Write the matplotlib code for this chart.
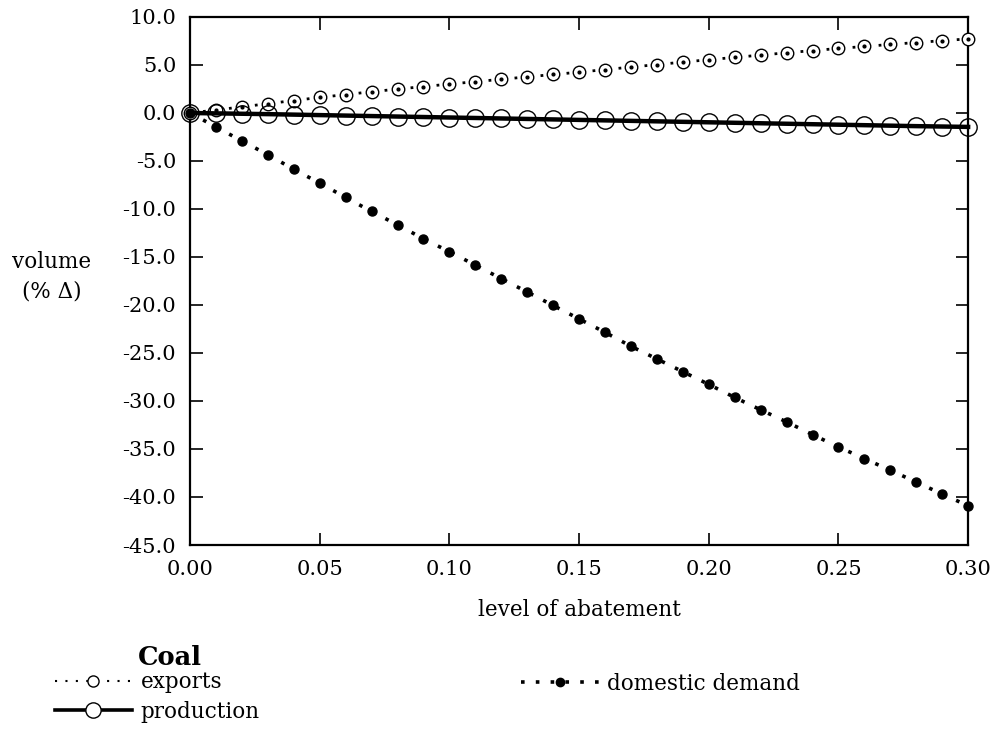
import numpy as np
import matplotlib
matplotlib.use("Agg")
import matplotlib.pyplot as plt
from matplotlib.lines import Line2D
from matplotlib.ticker import FormatStrFormatter

plt.rcParams['font.family'] = ['DejaVu Serif']

# level of abatement
abatement = [0.00, 0.01, 0.02, 0.03, 0.04, 0.05, 0.06, 0.07, 0.08, 0.09, 0.10,
             0.11, 0.12, 0.13, 0.14, 0.15, 0.16, 0.17, 0.18, 0.19, 0.20,
             0.21, 0.22, 0.23, 0.24, 0.25, 0.26, 0.27, 0.28, 0.29, 0.30]

# volume (% change)
exports = [0.00, 0.31, 0.64, 0.97, 1.30, 1.62, 1.92, 2.21, 2.49, 2.75, 3.01,
           3.26, 3.51, 3.76, 4.01, 4.25, 4.52, 4.78, 5.04, 5.30, 5.55,
           5.79, 6.03, 6.27, 6.50, 6.72, 6.93, 7.14, 7.34, 7.53, 7.72]
production = [0.00, -0.04, -0.08, -0.12, -0.17, -0.22, -0.27, -0.32, -0.37, -0.42, -0.47,
              -0.52, -0.57, -0.62, -0.67, -0.72, -0.77, -0.82, -0.87, -0.92, -0.97,
              -1.02, -1.07, -1.12, -1.17, -1.22, -1.27, -1.32, -1.37, -1.41, -1.45]
domestic = [0.00, -1.45, -2.92, -4.34, -5.87, -7.30, -8.80, -10.26, -11.65, -13.10, -14.45,
            -15.85, -17.25, -18.65, -20.05, -21.45, -22.85, -24.30, -25.62, -26.95, -28.27,
            -29.63, -30.92, -32.18, -33.50, -34.79, -36.00, -37.22, -38.44, -39.70, -40.91]

xticks = [0.00, 0.05, 0.10, 0.15, 0.20, 0.25, 0.30]
yticks = [10, 5, 0, -5, -10, -15, -20, -25, -30, -35, -40, -45]

fs = 15      # tick labels
fs_txt = 15.5  # axis labels / legend

fig = plt.figure(figsize=(9.95, 7.29), dpi=100)
ax = fig.add_axes([0.191, 0.2524, 0.782, 0.7243])

# exports: dotted line, small open circles with a centre dot
ax.plot(abatement, exports, color='black', lw=2, linestyle=(0, (1, 3.7)),
        dash_capstyle='butt', marker='o', ms=9, mfc='white', mec='black',
        mew=1.0, clip_on=False, zorder=3)
ax.plot(abatement, exports, linestyle='none', marker='o', ms=2,
        color='black', clip_on=False, zorder=4)

# production: thick solid line, large open circles
ax.plot(abatement, production, color='black', lw=3.2, linestyle='-',
        marker='o', ms=12.5, mfc='none', mec='black', mew=1.0,
        clip_on=False, zorder=3)

# domestic demand: dotted line, filled dots
ax.plot(abatement, domestic, color='black', lw=2.6, linestyle=(0, (1, 3.1)),
        dash_capstyle='butt', marker='o', ms=6.5, mfc='black', mec='black',
        clip_on=False, zorder=3)

ax.set_xlim(0, 0.30)
ax.set_ylim(-45, 10)
ax.set_xticks(xticks)
ax.set_yticks(yticks)
ax.xaxis.set_major_formatter(FormatStrFormatter('%.2f'))
ax.yaxis.set_major_formatter(FormatStrFormatter('%.1f'))
ax.tick_params(direction='in', length=9, width=1.2, top=True, right=True,
               labelsize=fs)
ax.tick_params(axis='y', pad=10)
ax.tick_params(axis='x', pad=11)
for sp in ax.spines.values():
    sp.set_linewidth(1.6)

ax.set_xlabel('level of abatement', fontsize=fs_txt, labelpad=14)
fig.text(0.052, 0.62, 'volume\n(% \u0394)', fontsize=fs_txt, ha='center',
         va='center', linespacing=1.45)

# legend
h_exp = Line2D([], [], color='black', lw=1.5, linestyle=(0, (1, 4)),
               marker='o', ms=8, mfc='white', mec='black', mew=1.0)
h_prod = Line2D([], [], color='black', lw=2.6, marker='o', ms=11,
                mfc='white', mec='black', mew=1.0)
h_dom = Line2D([], [], color='black', lw=2.6, linestyle=(0, (1, 3.1)),
               marker='o', ms=6, mfc='black', mec='black')

fig.text(0.139, 0.0805, 'Coal', fontsize=fs_txt + 3, fontweight='bold',
         ha='left', va='bottom')
fig.legend([h_exp, h_prod], ['exports', 'production'], loc='upper left',
           bbox_to_anchor=(0.055, 0.0795), frameon=False, fontsize=fs_txt,
           handlelength=3.6, handletextpad=0.4, labelspacing=0.35,
           borderaxespad=0, borderpad=0)
fig.legend([h_dom], ['domestic demand'], loc='upper left',
           bbox_to_anchor=(0.524, 0.0775), frameon=False, fontsize=fs_txt,
           handlelength=3.6, handletextpad=0.4, borderaxespad=0, borderpad=0)

fig.savefig('out.png', dpi=100)
